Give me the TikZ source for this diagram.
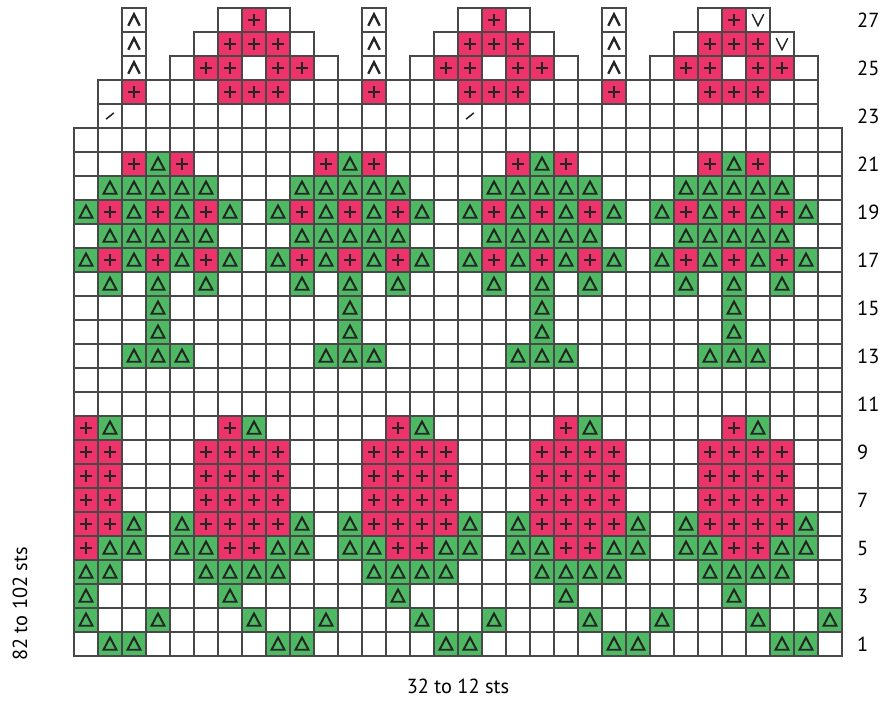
\documentclass[tikz,border=0pt]{standalone}
\usepackage{fontspec}
\setmainfont{PT Sans}
\definecolor{stpink}{RGB}{237,51,105}
\definecolor{stgreen}{RGB}{77,185,99}
\definecolor{gridgray}{RGB}{72,72,72}
\tikzset{
  gridline/.style={draw=gridgray, line width=0.9pt},
  symline/.style={draw=black!85, line width=1.2pt},
  knitplus/.pic={\draw[symline] (-0.25,0) -- (0.25,0) (0,-0.25) -- (0,0.25);},
  knittri/.pic={\draw[symline, line width=1.4pt, line join=miter] (-0.27,-0.24) -- (0.27,-0.24) -- (0,0.27) -- cycle;},
  knitdec/.pic={\draw[symline, line width=1.7pt] (-0.24,-0.24) -- (0,0.24) -- (0.24,-0.24);},
  knitinc/.pic={\draw[symline, line width=1.1pt] (-0.24,0.24) -- (0,-0.24) -- (0.24,0.24);},
  knitslash/.pic={\draw[symline, line width=1.1pt] (-0.16,-0.13) -- (0.16,0.13);},
}

\begin{document}
\begin{tikzpicture}[x=0.6cm, y=0.6cm, every node/.style={font=\fontsize{14.5}{17}\selectfont, inner sep=0pt}]
  \useasboundingbox (-74/24,-46/24) rectangle (822/24,656/24);
  % pink stitches
  \foreach \r/\cols in {5/{1,7,8,14,15,21,22,28,29},
      6/{1,2,6,7,8,9,13,14,15,16,20,21,22,23,27,28,29,30},
      7/{1,2,6,7,8,9,13,14,15,16,20,21,22,23,27,28,29,30},
      8/{1,2,6,7,8,9,13,14,15,16,20,21,22,23,27,28,29,30},
      9/{1,2,6,7,8,9,13,14,15,16,20,21,22,23,27,28,29,30},
      10/{1,7,14,21,28},
      17/{2,4,6,10,12,14,18,20,22,26,28,30},
      19/{2,4,6,10,12,14,18,20,22,26,28,30},
      21/{3,5,11,13,19,21,27,29},
      24/{3,7,8,9,13,17,18,19,23,27,28,29},
      25/{6,7,9,10,16,17,19,20,26,27,29,30},
      26/{7,8,9,17,18,19,27,28,29},
      27/{8,18,28}}
    \foreach \c in \cols {
      \fill[stpink] (\c-1,\r-1) rectangle ++(1,1);
      \pic at (\c-0.5,\r-0.5) {knitplus};
    }
  % green stitches
  \foreach \r/\cols in {1/{2,3,9,10,16,17,23,24,30,31},
      2/{1,4,8,11,15,18,22,25,29,32},
      3/{1,7,14,21,28},
      4/{1,2,6,7,8,9,13,14,15,16,20,21,22,23,27,28,29,30},
      5/{2,3,5,6,9,10,12,13,16,17,19,20,23,24,26,27,30,31},
      6/{3,5,10,12,17,19,24,26,31},
      10/{2,8,15,22,29},
      13/{3,4,5,11,12,13,19,20,21,27,28,29},
      14/{4,12,20,28},
      15/{4,12,20,28},
      16/{2,4,6,10,12,14,18,20,22,26,28,30},
      17/{1,3,5,7,9,11,13,15,17,19,21,23,25,27,29,31},
      18/{2,3,4,5,6,10,11,12,13,14,18,19,20,21,22,26,27,28,29,30},
      19/{1,3,5,7,9,11,13,15,17,19,21,23,25,27,29,31},
      20/{2,3,4,5,6,10,11,12,13,14,18,19,20,21,22,26,27,28,29,30},
      21/{4,12,20,28}}
    \foreach \c in \cols {
      \fill[stgreen] (\c-1,\r-1) rectangle ++(1,1);
      \pic at (\c-0.5,\r-0.5) {knittri};
    }
  % grid, column by column
  \foreach \c/\h in {1/22, 2/24, 3/27, 4/24, 5/25, 6/26, 7/27, 8/27, 9/27, 10/26,
      11/25, 12/24, 13/27, 14/24, 15/25, 16/26, 17/27, 18/27, 19/27, 20/26,
      21/25, 22/24, 23/27, 24/24, 25/25, 26/26, 27/27, 28/27, 29/27, 30/26,
      31/25, 32/22}
    \foreach \r in {1,...,\h} \draw[gridline] (\c-1,\r-1) rectangle (\c,\r);
  % decreases, increases, slashes
  \foreach \c in {3,13,23} \foreach \r in {25,26,27} \pic at (\c-0.5,\r-0.5) {knitdec};
  \foreach \c/\r in {29/27, 30/26} \pic at (\c-0.5,\r-0.5) {knitinc};
  \foreach \c/\r in {2/23, 17/23} \pic at (\c-0.5,\r-0.5) {knitslash};
  % row numbers
  \foreach \r in {1,3,...,27} \node[anchor=west] (row\r) at (32.62,\r-0.5) {\r};
  % widths
  \node (sts) at (16,-1.25) {32 to 12 sts};
  \node[rotate=90] (rows) at (-2.25,2.17) {82 to 102 sts};
\end{tikzpicture}
\end{document}
